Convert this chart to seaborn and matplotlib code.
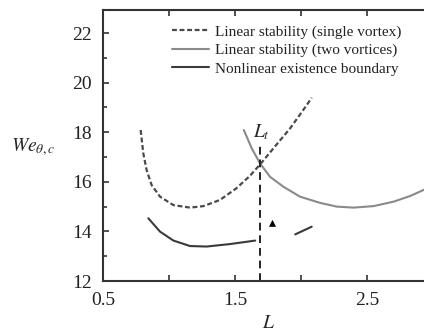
import matplotlib
matplotlib.use("Agg")
import matplotlib.pyplot as plt
import seaborn as sns
from matplotlib.ticker import MultipleLocator, FixedFormatter, FixedLocator

# Data
single_L = [0.785, 0.805, 0.83, 0.868, 0.932, 1.033, 1.159, 1.26, 1.386,
            1.51, 1.614, 1.689, 1.79, 1.917, 2.043, 2.08]
single_We = [18.09, 17.15, 16.48, 15.87, 15.4, 15.06, 14.96, 15.02, 15.27,
             15.74, 16.25, 16.7, 17.35, 18.16, 19.1, 19.39]

two_L = [1.566, 1.626, 1.689, 1.765, 1.866, 1.992, 2.144, 2.27, 2.396,
         2.548, 2.70, 2.826, 2.93]
two_We = [18.09, 17.35, 16.74, 16.2, 15.8, 15.4, 15.15, 15.0, 14.96,
          15.02, 15.2, 15.43, 15.68]

nl1_L = [0.843, 0.932, 1.033, 1.159, 1.285, 1.462, 1.652]
nl1_We = [14.53, 13.99, 13.63, 13.41, 13.39, 13.49, 13.63]
nl2_L = [1.955, 2.08]
nl2_We = [13.88, 14.19]

Lt = 1.689
Lt_top = 17.55
tri_L = [1.783]
tri_We = [14.32]

labels = ["Linear stability (single vortex)",
          "Linear stability (two vortices)",
          "Nonlinear existence boundary"]

sns.set_style("ticks")
plt.rcParams['font.family'] = ['Liberation Serif', 'DejaVu Serif']
plt.rcParams['mathtext.fontset'] = 'stix'

fig = plt.figure(figsize=(4.24, 3.33), dpi=100)
ax = fig.add_axes([103/424, (333-281)/333, (424-103)/424, (281-10)/333])

c_dash = "#4a4a4a"
c_two = "#8a8a8a"
c_nl = "#3a3a3a"

sns.lineplot(x=single_L, y=single_We, ax=ax, sort=False, color=c_dash,
             lw=1.6, linestyle=(0, (2.2, 1.2)), label=labels[0])
sns.lineplot(x=two_L, y=two_We, ax=ax, sort=False, color=c_two,
             lw=1.5, label=labels[1])
sns.lineplot(x=nl1_L, y=nl1_We, ax=ax, sort=False, color=c_nl,
             lw=1.5, label=labels[2])
sns.lineplot(x=nl2_L, y=nl2_We, ax=ax, sort=False, color=c_nl, lw=1.5)
ax.plot([Lt, Lt], [12, Lt_top], color="#222222", lw=1.4, linestyle=(0, (4, 2.5)))
sns.scatterplot(x=tri_L, y=tri_We, ax=ax, marker="^", color="black", s=18,
                edgecolor="black", linewidth=0.5)
ax.text(1.70, 18.02, r"$L_t$", fontsize=14, ha="center", va="center")

ax.set_xlim(0.5, 2.93)
ax.set_ylim(12, 22.93)
ax.xaxis.set_major_locator(FixedLocator([0.5, 1.0, 1.5, 2.0, 2.5]))
ax.xaxis.set_major_formatter(FixedFormatter(["0.5", "", "1.5", "", "2.5"]))
ax.yaxis.set_major_locator(MultipleLocator(2))
ax.yaxis.set_minor_locator(MultipleLocator(1))
ax.tick_params(axis="both", which="both", direction="in", colors="#333333",
               labelcolor="#222222", labelsize=14, width=1.2)
ax.tick_params(axis="both", which="major", length=4)
ax.tick_params(axis="both", which="minor", length=3)
ax.tick_params(axis="y", pad=8)
ax.tick_params(axis="x", top=True, pad=8)
for s in ["left", "bottom", "top"]:
    ax.spines[s].set_color("#333333")
    ax.spines[s].set_linewidth(1.5)
ax.spines["right"].set_visible(False)
ax.set_xlabel("")
ax.set_ylabel("")

fig.text(33/424, 1 - 147/333, r"$We_{\theta,c}$", fontsize=14, ha="center", va="center")
fig.text(269/424, 1 - 324/333, r"$L$", fontsize=14, ha="center", va="center")

leg = ax.legend(loc="upper left", bbox_to_anchor=(172/424, 1 - 25/333),
                bbox_transform=fig.transFigure, frameon=False, fontsize=11,
                handlelength=2.4, handletextpad=0.4, labelspacing=0.3,
                borderpad=0, borderaxespad=0)
for t in leg.get_texts():
    t.set_color("#222222")

fig.savefig("out.png", dpi=100)
